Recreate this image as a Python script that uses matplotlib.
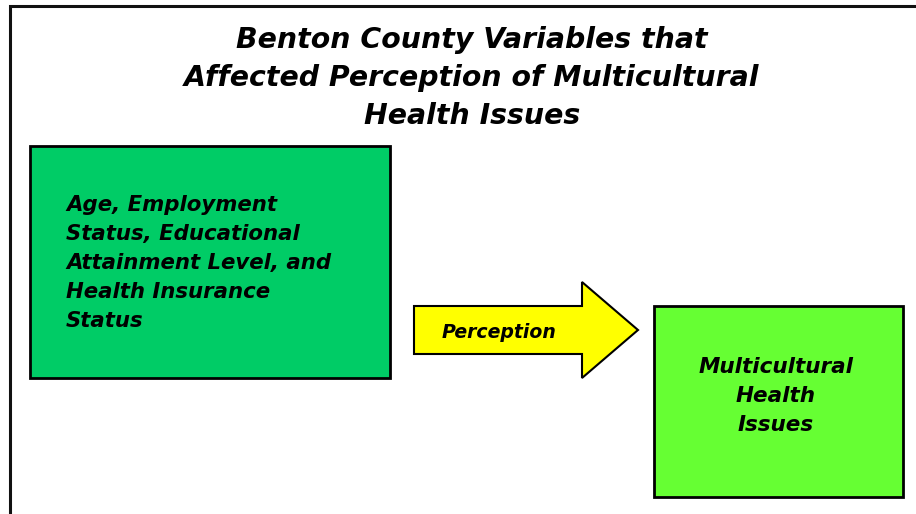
import matplotlib.pyplot as plt
from matplotlib.patches import Rectangle, Polygon

# text content
title_lines = ["Benton County Variables that",
               "Affected Perception of Multicultural",
               "Health Issues"]
left_lines = ["Age, Employment", "Status, Educational",
              "Attainment Level, and", "Health Insurance", "Status"]
arrow_label = "Perception"
right_lines = ["Multicultural", "Health", "Issues"]

W, H = 916, 514
fig = plt.figure(figsize=(W / 100, H / 100), dpi=100, facecolor='white')
ax = fig.add_axes([0, 0, 1, 1])
ax.set_xlim(0, W)
ax.set_ylim(H, 0)
ax.axis('off')

font = dict(family='DejaVu Sans', weight='bold', style='italic', color='black')

# outer frame (runs off the right and bottom edges)
ax.plot([10, 10, W + 5], [H + 5, 6, 6], color='#111111', lw=2.2, solid_joinstyle='miter')

# title
for i, line in enumerate(title_lines):
    ax.text(472, 40 + i * 38, line, ha='center', va='center', fontsize=20.4, **font)

# left box
ax.add_patch(Rectangle((30, 146), 360, 232, facecolor='#00CC66', edgecolor='black', lw=2))
for i, line in enumerate(left_lines):
    ax.text(66, 205 + i * 29, line, ha='left', va='center', fontsize=15.3, **font)

# arrow
arrow_pts = [(414, 306), (582, 306), (582, 282), (638, 330),
             (582, 378), (582, 354), (414, 354)]
ax.add_patch(Polygon(arrow_pts, closed=True, facecolor='#FFFF00', edgecolor='black', lw=1.5))
ax.text(499, 332, arrow_label, ha='center', va='center', fontsize=13.6, **font)

# right box
ax.add_patch(Rectangle((654, 306), 249, 191, facecolor='#66FF33', edgecolor='black', lw=2))
for i, line in enumerate(right_lines):
    ax.text(776, 367 + i * 29, line, ha='center', va='center', fontsize=15.5, **font)

fig.savefig('out.png', dpi=100, facecolor='white')
